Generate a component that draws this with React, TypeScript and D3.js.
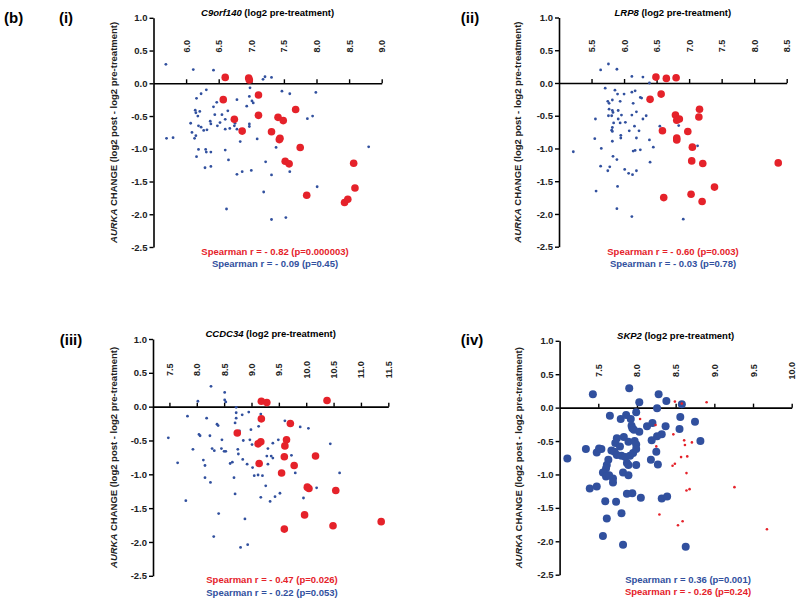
import React, { useEffect, useRef } from 'react';
import * as d3 from 'd3';

// ---- data: [pre-treatment log2, AURKA change] ----
const c9Red = [
  [6.60, 0.09], [6.96, 0.08], [6.97, 0.05], [6.57, -0.25], [7.11, -0.18], [6.74, -0.55],
  [6.86, -0.73], [7.11, -0.49], [7.41, -0.52], [7.49, -0.57], [7.68, -0.40], [7.31, -0.74],
  [7.44, -0.84], [7.43, -0.86], [7.75, -0.98], [7.52, -1.19], [7.58, -1.23], [7.85, -1.71],
  [8.43, -1.82], [8.48, -1.77], [8.59, -1.60], [8.57, -1.22],
];
const c9Blue = [
  [5.69, 0.29], [6.11, 0.21], [6.42, 0.20], [7.18, 0.06], [7.21, 0.10], [7.31, 0.09],
  [5.70, -0.84], [5.80, -0.83], [6.07, -0.61], [6.09, -0.75], [6.13, -0.84], [6.15, -0.80],
  [6.16, -0.23], [6.23, -0.16], [6.31, -0.10], [6.14, -0.41], [6.15, -0.45], [6.21, -0.43],
  [6.18, -0.50], [6.19, -0.65], [6.23, -0.67], [6.27, -0.72], [6.37, -0.58], [6.38, -0.62],
  [6.32, -0.71], [6.44, -0.48], [6.47, -0.29], [6.42, -0.36], [6.48, -0.65], [6.19, -1.01],
  [6.30, -1.01], [6.31, -1.05], [6.38, -1.05], [6.16, -1.12], [6.29, -1.29], [6.38, -1.27],
  [6.60, -1.02], [6.65, -1.17], [6.60, -0.55], [6.64, -0.42], [6.60, -0.70], [6.67, -0.69],
  [6.74, -0.65], [6.75, -0.61], [6.78, -0.25], [6.78, -0.70], [6.83, -0.89], [6.78, -1.39],
  [6.86, -1.35], [6.62, -1.92], [6.93, -0.35], [6.97, -0.20], [6.98, -0.07], [7.01, -0.27],
  [7.03, -0.30], [6.97, -0.62], [6.97, -0.66], [7.00, -1.33], [7.09, -0.85], [7.22, -1.20],
  [7.19, -1.66], [7.31, -1.40], [7.31, -2.08], [7.38, -0.98], [7.47, -0.12], [7.59, -0.16],
  [7.59, -1.35], [7.53, -2.05], [7.86, -0.54], [7.94, -0.50], [7.99, -0.14], [8.01, -1.58],
  [8.80, -0.97], [6.55, -0.48], [6.52, -0.60],
];

const lrpRed = [
  [6.49, 0.09], [6.65, 0.07], [6.80, 0.08], [6.40, -0.25], [6.57, -0.17], [6.59, -0.73],
  [6.79, -0.49], [6.81, -0.57], [6.85, -0.55], [6.81, -0.84], [6.81, -0.87], [6.98, -0.74],
  [7.16, -0.40], [7.15, -0.52], [7.05, -0.98], [7.04, -1.19], [7.21, -1.23], [8.37, -1.22],
  [7.39, -1.59], [7.03, -1.70], [7.20, -1.81], [6.61, -1.75],
];
const lrpBlue = [
  [5.64, 0.20], [5.76, 0.29], [5.89, 0.21], [6.12, 0.10], [6.29, 0.09], [6.39, 0.00],
  [5.71, -0.08], [5.86, -0.11], [5.90, -0.17], [6.00, -0.17], [6.12, -0.14], [6.17, -0.12],
  [5.75, -0.28], [5.77, -0.31], [5.82, -0.26], [5.94, -0.28], [6.14, -0.31], [6.25, -0.22],
  [6.27, -0.23], [5.77, -0.40], [5.82, -0.42], [5.83, -0.45], [5.91, -0.42], [5.56, -0.55],
  [5.76, -0.50], [5.81, -0.50], [5.96, -0.49], [6.12, -0.49], [6.19, -0.44], [5.91, -0.55],
  [5.84, -0.61], [5.82, -0.68], [5.81, -0.72], [5.82, -0.74], [5.94, -0.61], [6.02, -0.60],
  [6.08, -0.73], [6.16, -0.66], [6.23, -0.73], [6.29, -0.55], [6.34, -0.50], [6.19, -0.84],
  [5.95, -0.80], [5.95, -0.84], [6.39, -0.87], [5.55, -0.85], [5.82, -0.89], [6.45, -0.98],
  [5.65, -1.00], [5.22, -1.05], [5.83, -1.12], [5.89, -1.17], [6.14, -1.04], [6.17, -1.03],
  [6.25, -1.02], [6.40, -1.21], [5.64, -1.27], [5.78, -1.28], [5.75, -1.34], [6.01, -1.32],
  [6.07, -1.38], [6.13, -1.40], [6.19, -1.34], [5.57, -1.65], [5.90, -1.58], [5.89, -1.92],
  [6.12, -2.04], [6.55, -0.66], [6.84, -0.65], [7.13, -0.96], [6.91, -2.08],
];

const ccdRed = [
  [9.18, 0.08], [9.28, 0.06], [10.38, 0.09], [9.18, -0.18], [9.71, -0.25], [8.74, -0.39],
  [9.12, -0.55], [9.17, -0.52], [9.64, -0.49], [9.61, -0.58], [9.60, -0.74], [10.17, -0.73],
  [9.14, -0.84], [9.78, -0.87], [9.55, -0.98], [10.02, -1.19], [10.05, -1.21], [10.54, -1.24],
  [9.97, -1.60], [9.60, -1.81], [10.49, -1.76], [11.37, -1.70],
];
const ccdBlue = [
  [8.26, 0.30], [8.51, 0.21], [8.51, 0.10], [8.53, 0.07], [8.02, 0.08], [8.72, -0.01],
  [7.83, -0.14], [8.18, -0.17], [8.37, -0.26], [8.39, -0.28], [8.72, -0.09], [8.83, -0.12],
  [8.95, -0.08], [9.17, -0.11], [8.70, -0.24], [8.72, -0.17], [8.78, -0.36], [8.99, -0.34],
  [9.13, -0.29], [8.04, -0.41], [8.06, -0.43], [7.48, -0.46], [8.24, -0.43], [8.46, -0.49],
  [7.93, -0.63], [8.28, -0.62], [8.32, -0.65], [8.45, -0.62], [8.50, -0.66], [8.53, -0.66],
  [8.75, -0.63], [8.76, -0.70], [8.84, -0.78], [8.85, -0.50], [8.97, -0.49], [9.01, -0.56],
  [7.65, -0.83], [8.12, -0.79], [8.15, -0.87], [8.61, -0.84], [8.65, -0.82], [8.92, -0.85],
  [9.02, -0.90], [8.15, -1.05], [8.25, -1.12], [8.68, -1.05], [9.05, -1.02], [9.12, -1.01],
  [9.20, -1.02], [7.80, -1.39], [8.70, -1.29], [9.17, -1.34], [9.26, -1.17], [9.34, -1.40],
  [9.43, -1.33], [9.52, -1.28], [9.30, -0.62], [9.36, -0.73], [9.28, -0.73], [9.39, -0.76],
  [9.39, -0.54], [9.30, -0.85], [9.49, -0.49], [9.61, -0.21], [9.73, -0.72], [9.80, -0.98],
  [9.89, -0.30], [10.04, -0.32], [9.95, -1.35], [10.19, -1.20], [10.44, -0.55], [10.61, -0.98],
  [8.40, -1.58], [8.88, -1.66], [8.31, -1.92], [8.80, -2.08], [8.93, -2.04],
];

const skpBlue = [
  [7.43, 0.20], [7.90, 0.29], [8.03, 0.08], [8.28, 0.20], [8.38, 0.10], [8.26, -0.01],
  [8.58, 0.05], [7.65, -0.12], [7.79, -0.17], [7.86, -0.11], [7.92, -0.17], [7.99, -0.07],
  [7.93, -0.27], [7.94, -0.31], [7.96, -0.33], [8.03, -0.36], [8.13, -0.28], [8.20, -0.23],
  [8.37, -0.28], [8.56, -0.14], [8.55, -0.32], [8.75, -0.21], [8.82, -0.50], [8.32, -0.40],
  [8.26, -0.43], [8.19, -0.49], [8.25, -0.66], [8.18, -0.78], [8.27, -0.85], [7.74, -0.46],
  [7.72, -0.53], [7.83, -0.44], [7.89, -0.51], [7.97, -0.50], [7.99, -0.55], [7.34, -0.62],
  [7.48, -0.67], [7.51, -0.61], [7.54, -0.62], [7.67, -0.64], [7.71, -0.66], [7.74, -0.71],
  [7.78, -0.58], [7.80, -0.72], [7.85, -0.74], [7.91, -0.72], [7.95, -0.68], [7.99, -0.62],
  [7.63, -0.78], [7.61, -0.86], [7.60, -0.91], [7.10, -0.76], [7.56, -0.97], [7.60, -1.03],
  [7.69, -1.06], [7.69, -1.12], [7.82, -0.97], [7.89, -1.01], [7.87, -0.83], [7.89, -0.86],
  [7.99, -0.86], [7.39, -1.21], [7.48, -1.18], [7.59, -1.40], [7.73, -1.41], [7.87, -1.29],
  [7.94, -1.28], [8.05, -1.35], [8.32, -1.36], [8.39, -1.33], [7.61, -1.66], [7.80, -1.58],
  [7.56, -1.92], [7.82, -2.05], [8.63, -2.08], [7.64, -1.01],
];
const skpRed = [
  [8.49, 0.09], [8.58, 0.06], [8.90, 0.08], [8.04, -0.17], [8.24, -0.26], [8.25, -0.58],
  [8.47, -0.40], [8.61, -0.49], [8.62, -0.56], [8.71, -0.52], [8.57, -0.74], [8.65, -0.73],
  [8.46, -0.87], [8.49, -0.84], [8.64, -0.98], [8.64, -1.24], [8.68, -1.22], [9.26, -1.19],
  [8.29, -1.60], [8.53, -1.76], [8.59, -1.70], [9.68, -1.82],
];

const yTicks = [1.0, 0.5, 0.0, -0.5, -1.0, -1.5, -2.0, -2.5];
const c9Ticks = [6.0, 6.5, 7.0, 7.5, 8.0, 8.5, 9.0];
const lrpTicks = [5.5, 6.0, 6.5, 7.0, 7.5, 8.0, 8.5];
const ccdTicks = [7.5, 8.0, 8.5, 9.0, 9.5, 10.0, 10.5, 11.0, 11.5];
const skpTicks = [7.5, 8.0, 8.5, 9.0, 9.5, 10.0];

const RED = '#e5222a';
const BLUE = '#31509e';
const FONT = '"Liberation Sans", Arial, Helvetica, sans-serif';

const panels = [
  {
    label: '(i)', labelX: 66, labelY: 17, gene: 'C9orf140',
    xDomain: [5.5, 9.0], xRange: [153.5, 381.7], yRange: [17.8, 247], xTicks: c9Ticks,
    series: [{ pts: c9Blue, color: BLUE, r: 1.4 }, { pts: c9Red, color: RED, r: 3.8 }],
    stats: [
      { text: 'Spearman r = - 0.82 (p=0.000003)', color: RED },
      { text: 'Spearman r = - 0.09 (p=0.45)', color: BLUE },
    ],
    statX: 275, statY: 251, ylabX: 113,
  },
  {
    label: '(ii)', labelX: 470, labelY: 17, gene: 'LRP8',
    xDomain: [5.0, 8.5], xRange: [559, 786.7], yRange: [17.5, 246.7], xTicks: lrpTicks,
    series: [{ pts: lrpBlue, color: BLUE, r: 1.4 }, { pts: lrpRed, color: RED, r: 3.8 }],
    stats: [
      { text: 'Spearman r = - 0.60 (p=0.003)', color: RED },
      { text: 'Spearman r = - 0.03 (p=0.78)', color: BLUE },
    ],
    statX: 673, statY: 251, ylabX: 517,
  },
  {
    label: '(iii)', labelX: 71, labelY: 339, gene: 'CCDC34',
    xDomain: [7.2, 11.5], xRange: [153, 388.3], yRange: [339, 575.8], xTicks: ccdTicks,
    series: [{ pts: ccdBlue, color: BLUE, r: 1.4 }, { pts: ccdRed, color: RED, r: 3.8 }],
    stats: [
      { text: 'Spearman r = - 0.47 (p=0.026)', color: RED },
      { text: 'Spearman r = - 0.22 (p=0.053)', color: BLUE },
    ],
    statX: 272, statY: 579.5, ylabX: 113,
  },
  {
    label: '(iv)', labelX: 472, labelY: 339, gene: 'SKP2',
    xDomain: [7.0, 10.0], xRange: [559.6, 791.7], yRange: [340.8, 574.7], xTicks: skpTicks,
    series: [{ pts: skpBlue, color: BLUE, r: 4 }, { pts: skpRed, color: RED, r: 1.3 }],
    stats: [
      { text: 'Spearman r =  0.36 (p=0.001)', color: BLUE },
      { text: 'Spearman r = - 0.26 (p=0.24)', color: RED },
    ],
    statX: 688, statY: 579, ylabX: 518,
  },
];

const App = () => {
  const svgRef = useRef(null);

  useEffect(() => {
    const svg = d3.select(svgRef.current);
    svg.selectAll('*').remove();
    svg.style('font-family', FONT);

    svg.append('text')
      .attr('x', 4).attr('y', 17)
      .attr('dominant-baseline', 'central')
      .style('font-size', '15px').style('font-weight', 'bold')
      .text('(b)');

    panels.forEach(p => {
      const x = d3.scaleLinear().domain(p.xDomain).range(p.xRange);
      const y = d3.scaleLinear().domain([1.0, -2.5]).range(p.yRange);
      const g = svg.append('g');

      // panel label
      g.append('text')
        .attr('x', p.labelX).attr('y', p.labelY)
        .attr('text-anchor', 'middle').attr('dominant-baseline', 'central')
        .style('font-size', '15px').style('font-weight', 'bold')
        .text(p.label);

      // title
      const title = g.append('text')
        .attr('x', (p.xRange[0] + p.xRange[1]) / 2)
        .attr('y', p.yRange[0] - 6)
        .attr('text-anchor', 'middle').attr('dominant-baseline', 'central')
        .style('font-size', '9.5px').style('font-weight', 'bold');
      title.append('tspan').style('font-style', 'italic').text(p.gene);
      title.append('tspan').text(' (log2 pre-treatment)');

      // y axis
      const yAxis = g.append('g')
        .attr('transform', `translate(${p.xRange[0]},0)`)
        .call(d3.axisLeft(y).tickValues(yTicks).tickFormat(d => d.toFixed(1))
          .tickSize(4).tickSizeOuter(0).tickPadding(2));
      yAxis.select('.domain').attr('stroke-width', 1.6);
      yAxis.selectAll('.tick line').attr('stroke-width', 1.4);
      yAxis.selectAll('text')
        .style('font-family', FONT).style('font-size', '9.5px').style('font-weight', 'bold')
        .attr('fill', '#222');

      // x axis crossing at y = 0
      const xAxis = g.append('g')
        .attr('transform', `translate(0,${y(0)})`)
        .call(d3.axisTop(x).tickValues(p.xTicks).tickFormat(d => d.toFixed(1))
          .tickSize(4).tickSizeOuter(0));
      xAxis.select('.domain').attr('stroke-width', 1.6);
      xAxis.selectAll('.tick line').attr('stroke-width', 1.4);
      xAxis.selectAll('text')
        .attr('y', null).attr('dy', null)
        .attr('transform', 'translate(0,-37) rotate(-90)')
        .attr('text-anchor', 'middle').attr('dominant-baseline', 'central')
        .style('font-family', FONT).style('font-size', '9px').style('font-weight', 'bold')
        .attr('fill', '#222');

      // y label
      const ylab = g.append('text')
        .attr('transform', `translate(${p.ylabX},${(p.yRange[0] + p.yRange[1]) / 2}) rotate(-90)`)
        .attr('text-anchor', 'middle').attr('dominant-baseline', 'central')
        .style('font-size', '9.5px').style('font-weight', 'bold').attr('fill', '#222');
      ylab.append('tspan').style('font-style', 'italic').text('AURKA');
      ylab.append('tspan').text(' CHANGE (log2 post - log2 pre-treatment)');

      // points
      p.series.forEach(s => {
        g.append('g').selectAll('circle')
          .data(s.pts)
          .enter()
          .append('circle')
          .attr('cx', d => x(d[0]))
          .attr('cy', d => y(d[1]))
          .attr('r', s.r)
          .attr('fill', s.color);
      });

      // stats
      p.stats.forEach((st, i) => {
        g.append('text')
          .attr('x', p.statX).attr('y', p.statY + i * 12.5)
          .attr('text-anchor', 'middle').attr('dominant-baseline', 'central')
          .style('font-size', '9.5px').style('font-weight', 'bold')
          .attr('fill', st.color)
          .text(st.text);
      });
    });
  }, []);

  return <svg ref={svgRef} width={800} height={600} style={{ position: 'absolute', left: 0, top: 0, background: '#fff' }} />;
};

export default App;
